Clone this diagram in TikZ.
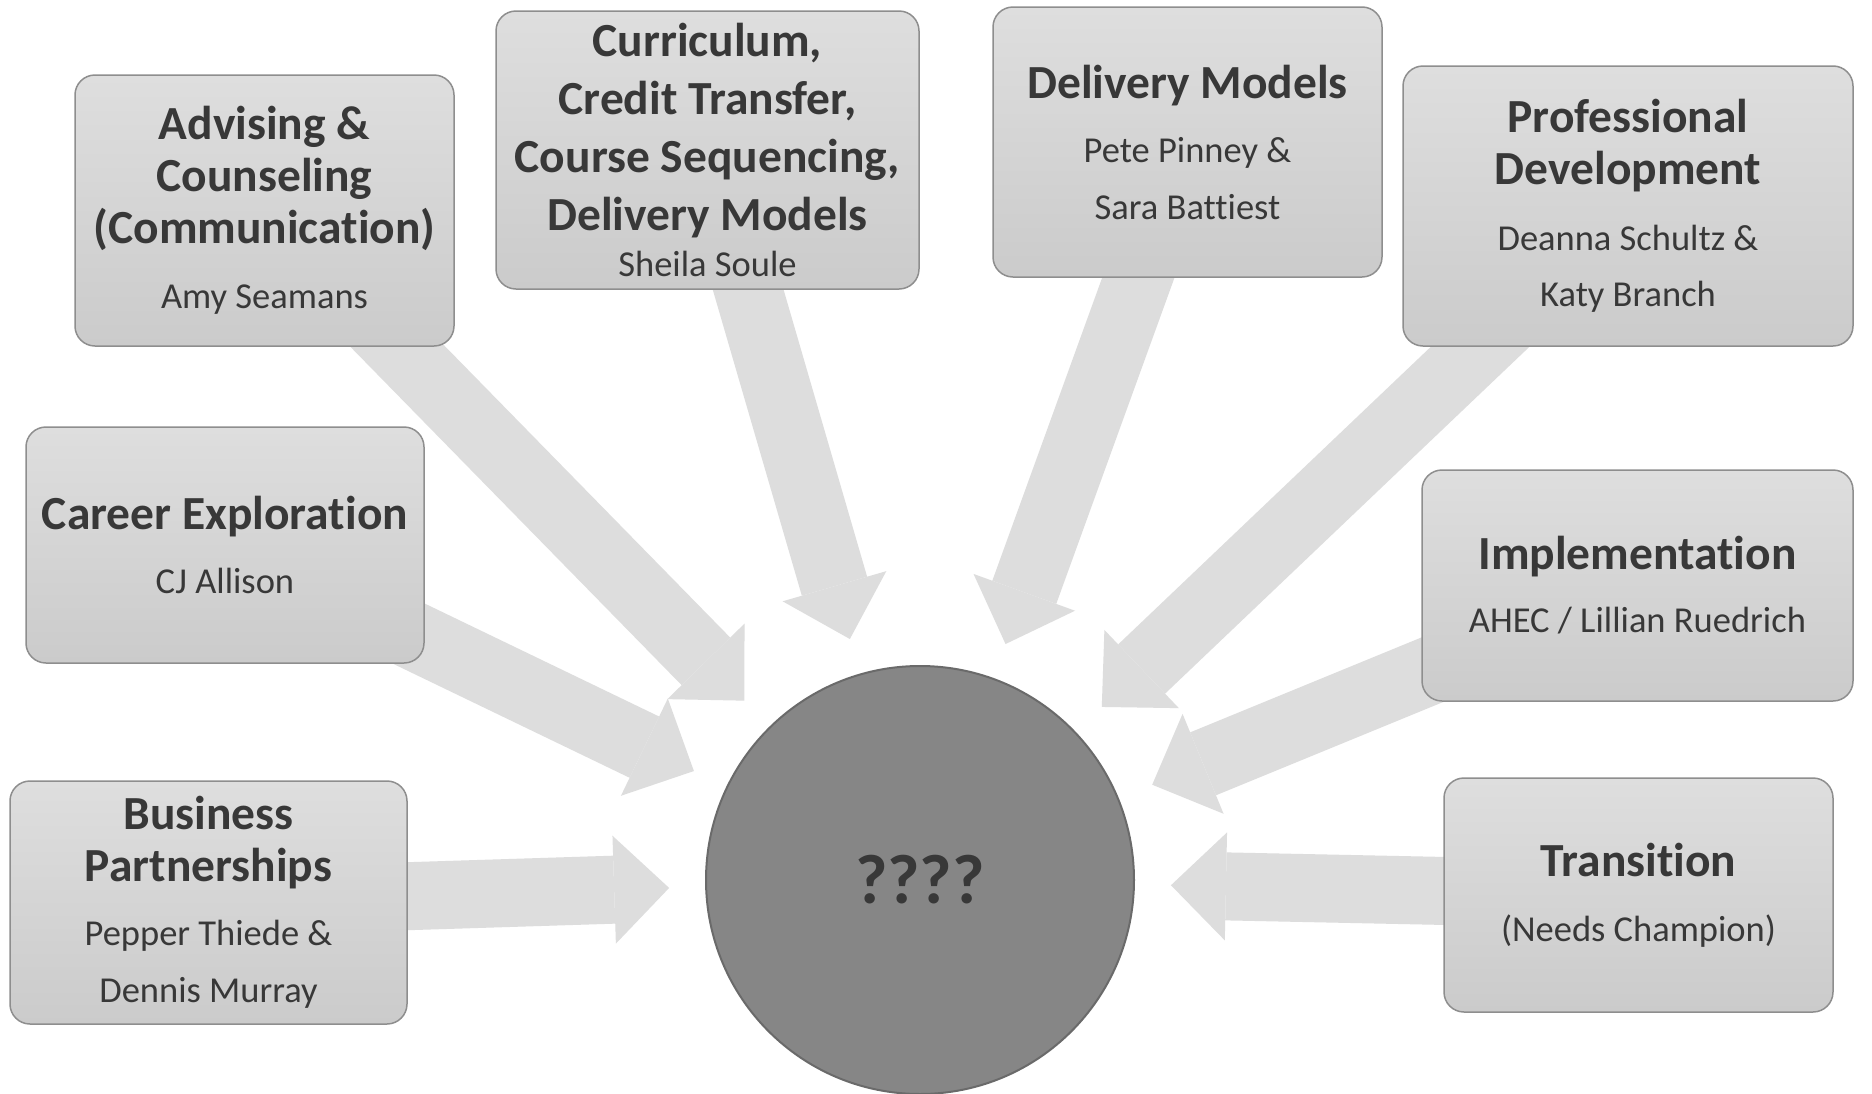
\documentclass[tikz,border=0pt]{standalone}
\usepackage{fontspec}
\setmainfont{Carlito}[Ligatures=NoCommon]
\usetikzlibrary{arrows.meta,backgrounds}

\definecolor{boxtop}{HTML}{DEDEDE}
\definecolor{boxbot}{HTML}{CBCBCB}
\definecolor{boxline}{HTML}{8E8E8E}
\definecolor{ink}{HTML}{383838}
\definecolor{feedgray}{HTML}{DDDDDD}
\definecolor{hubfill}{HTML}{868686}
\definecolor{hubline}{HTML}{6A6A6A}

% names under each topic are set smaller and not bold
\newcommand{\who}{\fontsize{36.5}{44}\mdseries\selectfont}

\tikzset{
  topic/.style={rectangle, rounded corners=20pt, draw=boxline, line width=1.5pt,
    top color=boxtop, bottom color=boxbot, text=ink, align=center,
    inner sep=0pt, outer sep=0pt, font=\fontsize{47.5}{52}\bfseries\selectfont},
  feed/.style={draw=feedgray, line width=68pt,
    -{Triangle[width=108pt,length=55pt,line width=0pt]}, shorten >=36pt},
}

\begin{document}
\begin{tikzpicture}[x=1pt,y=-1pt]
\useasboundingbox (0,0) rectangle (1872,1093);

% the hub in the middle
\node[circle, minimum size=428pt, inner sep=0pt, fill=hubfill, draw=hubline,
  line width=2pt, text=ink, font=\fontsize{70}{80}\bfseries\selectfont]
  (hub) at (920,880) {????};

% topics, left column then right column
\node[topic, minimum width=379pt, minimum height=271pt] (advise) at (264.5,210.5)
  {Advising \&\\Counseling\\(Communication)\\[13pt]\who Amy Seamans};
\node[topic, minimum width=423pt, minimum height=278pt] (curric) at (707.5,150)
  {Curriculum,\\[6pt]Credit Transfer,\\[6pt]Course Sequencing,\\[6pt]Delivery Models\\[-6pt]\who Sheila Soule};
\node[topic, minimum width=389pt, minimum height=270pt] (deliv) at (1187.5,142)
  {Delivery Models\\[12pt]\who Pete Pinney \&\\[5pt]\who Sara Battiest};
\node[topic, minimum width=450pt, minimum height=280pt] (profdev) at (1628,206)
  {Professional\\Development\\[14pt]\who Deanna Schultz \&\\[4pt]\who Katy Branch};
\node[topic, minimum width=398pt, minimum height=236pt] (career) at (225,545)
  {Career Exploration\\[12pt]\who CJ Allison};
\node[topic, minimum width=431pt, minimum height=231pt] (implem) at (1637.5,585.5)
  {Implementation\\[11pt]\who AHEC / Lillian Ruedrich};
\node[topic, minimum width=397pt, minimum height=243pt] (business) at (208.5,902.5)
  {Business\\Partnerships\\[12pt]\who Pepper Thiede \&\\[5pt]\who Dennis Murray};
\node[topic, minimum width=389pt, minimum height=234pt] (transit) at (1638.5,895)
  {Transition\\[13pt]\who (Needs Champion)};

% big arrows run behind the boxes into the hub
\begin{scope}[on background layer]
\fill[white] (0,0) rectangle (1872,1093);
\foreach \src in {advise,curric,deliv,profdev,career,implem,business,transit}
  \draw[feed] (\src.center) -- (hub);
\end{scope}
\end{tikzpicture}
\end{document}
